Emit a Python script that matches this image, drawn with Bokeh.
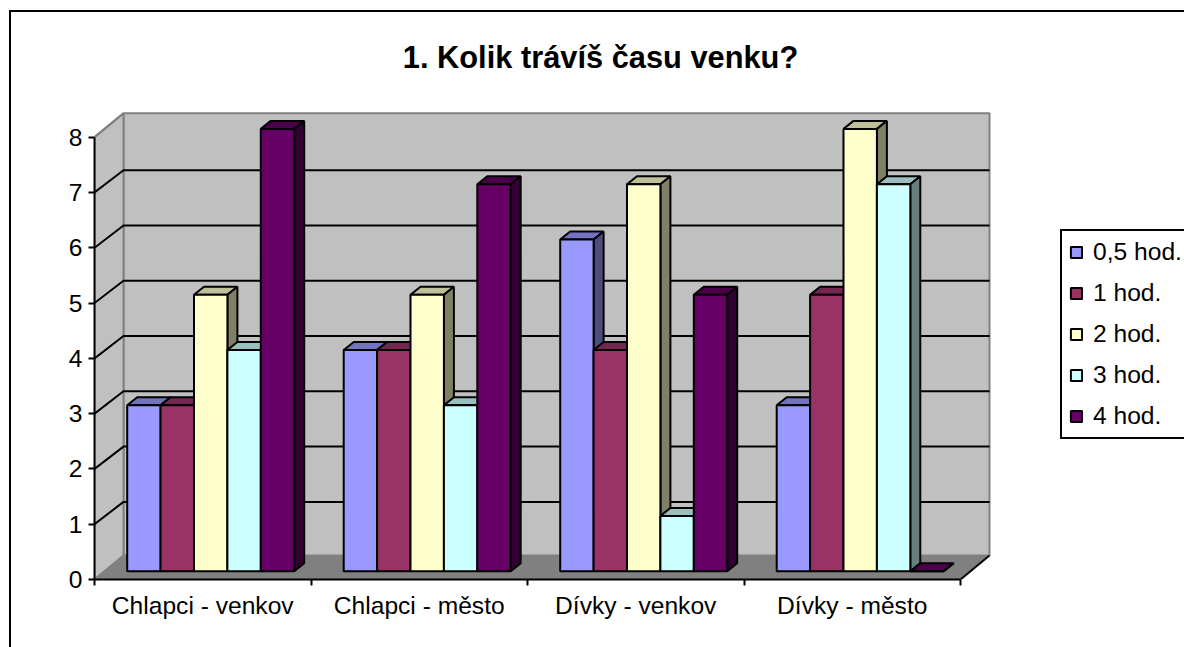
from bokeh.plotting import figure
from bokeh.embed import file_html
from bokeh.resources import INLINE
from bokeh.models import (ColumnDataSource, FixedTicker, Legend, LegendItem, Label)

categories = ["Chlapci - venkov", "Chlapci - město", "Dívky - venkov", "Dívky - město"]
series_names = ["0,5 hod.", "1 hod.", "2 hod.", "3 hod.", "4 hod."]
half_hour = [3, 4, 6, 3]
one_hour = [3, 4, 4, 5]
two_hours = [5, 5, 7, 8]
three_hours = [4, 3, 1, 7]
four_hours = [8, 7, 5, 0]
series_values = [half_hour, one_hour, two_hours, three_hours, four_hours]
front_colors = ["#9999FF", "#993366", "#FFFFCC", "#CCFFFF", "#660066"]
top_colors = ["#7373BF", "#732650", "#BFBF99", "#99BFBF", "#4C004C"]
side_colors = ["#4D4D80", "#4D1A33", "#808066", "#668080", "#330033"]
y_ticks = [0, 1, 2, 3, 4, 5, 6, 7, 8]

FRAME_W, FRAME_H = 1090, 579
CAT_PX, UNIT_PX = 216.5, 55.29
x_end = FRAME_W / CAT_PX
y_end = FRAME_H / UNIT_PX

# 3-D depth of the chart box and bars, in axis units
wall_dx, wall_dy = 29 / CAT_PX, 24 / UNIT_PX
grid_dy = 22.3 / UNIT_PX
bar_ox, bar_oy = 32.7 / CAT_PX, 8.3 / UNIT_PX
bar_w = 33.4 / CAT_PX
bar_dx, bar_dy = 10 / CAT_PX, 8 / UNIT_PX
ncat = len(categories)

# The chart-area border is open to the right and bottom of the page
border_css = ("linear-gradient(black,black) 9px 10px/2px 100% no-repeat,"
              "linear-gradient(black,black) 9px 10px/100% 2px no-repeat")

p = figure(width=1184, height=647,
           x_range=(0, x_end), y_range=(0, y_end),
           output_backend="svg", toolbar_location=None,
           min_border_left=94, min_border_right=0, min_border_top=0, min_border_bottom=68,
           outline_line_color=None, background_fill_color=None, border_fill_color=None)
p.styles = {"background": border_css}
p.grid.visible = False

p.add_layout(Label(x=(600 - 94) / CAT_PX, y=(579 - 57) / UNIT_PX, text="1. Kolik trávíš času venku?",
                   text_font="Liberation Sans", text_font_style="bold", text_font_size="30.8px",
                   text_color="black", text_align="center", text_baseline="middle"))

# back wall, side wall, floor
top = y_ticks[-1]
p.patch([wall_dx, ncat + wall_dx, ncat + wall_dx, wall_dx], [wall_dy, wall_dy, top + wall_dy, top + wall_dy],
        fill_color="#C0C0C0", line_color="#808080", line_width=2)
p.patch([0, wall_dx, wall_dx, 0], [0, wall_dy, top + wall_dy, top],
        fill_color="#C0C0C0", line_color="#808080", line_width=2)
p.patch([0, wall_dx, ncat + wall_dx, ncat], [0, wall_dy, wall_dy, 0],
        fill_color="#808080", line_color="#808080", line_width=1)
p.line([ncat, ncat + wall_dx], [0, wall_dy], line_color="black", line_width=2)

# gridlines
for t in y_ticks[1:-1]:
    p.line([0, wall_dx, ncat + wall_dx], [t, t + grid_dy, t + grid_dy], line_color="black", line_width=2)
p.line([0, wall_dx], [top, top + wall_dy], line_color="#808080", line_width=2)

# bars, drawn left to right
legend_items = []
for s, (name, vals) in enumerate(zip(series_names, series_values)):
    lefts = [c + bar_ox + s * bar_w for c in range(ncat)]
    rights = [l + bar_w for l in lefts]
    tops = [v + bar_oy for v in vals]
    bottoms = [bar_oy] * ncat
    p.patches([[l, r, r + bar_dx, l + bar_dx] for l, r in zip(lefts, rights)],
              [[t, t, t + bar_dy, t + bar_dy] for t in tops],
              fill_color=top_colors[s], line_color="black", line_width=2)
    p.patches([[r, r + bar_dx, r + bar_dx, r] for r in rights],
              [[b, b + bar_dy, t + bar_dy, t] for b, t in zip(bottoms, tops)],
              fill_color=side_colors[s], line_color="black", line_width=2)
    src = ColumnDataSource(dict(left=lefts, right=rights, top=tops, bottom=bottoms))
    r = p.quad(left="left", right="right", top="top", bottom="bottom", source=src,
               fill_color=front_colors[s], line_color="black", line_width=2)
    legend_items.append(LegendItem(label=name, renderers=[r]))

# axes
yax = p.yaxis[0]
yax.ticker = FixedTicker(ticks=y_ticks)
yax.bounds = (0, top)
yax.axis_line_color = "black"
yax.axis_line_width = 2
yax.major_tick_line_color = "black"
yax.major_tick_line_width = 2
yax.major_tick_in = 0
yax.major_tick_out = 6
yax.minor_tick_line_color = None
yax.major_label_standoff = 6
yax.major_label_text_font = "Liberation Sans"
yax.major_label_text_font_size = "24.6px"
yax.major_label_text_color = "black"

xax = p.xaxis[0]
centers = [c + 0.5 for c in range(ncat)]
xax.ticker = FixedTicker(ticks=centers, minor_ticks=list(range(ncat + 1)))
xax.major_label_overrides = dict(zip(centers, categories))
xax.bounds = (0, ncat)
xax.axis_line_color = "black"
xax.axis_line_width = 2
xax.major_tick_line_color = None
xax.minor_tick_line_color = "black"
xax.minor_tick_line_width = 2
xax.minor_tick_in = 0
xax.minor_tick_out = 6
xax.major_tick_out = 6
xax.major_tick_in = 0
xax.major_label_standoff = 6
xax.major_label_text_font = "Liberation Sans"
xax.major_label_text_font_size = "24.6px"
xax.major_label_text_color = "black"

legend = Legend(items=legend_items, location=(966, 140), orientation="vertical",
                glyph_width=14, glyph_height=14, label_standoff=10, spacing=13, padding=7, margin=0,
                label_text_font="Liberation Sans", label_text_font_size="24.6px", label_text_color="black",
                label_width=200, border_line_color="black", border_line_width=2, border_line_alpha=1,
                background_fill_color="white", background_fill_alpha=1)
p.add_layout(legend, "center")

open("out.html", "w").write(file_html(p, INLINE))
